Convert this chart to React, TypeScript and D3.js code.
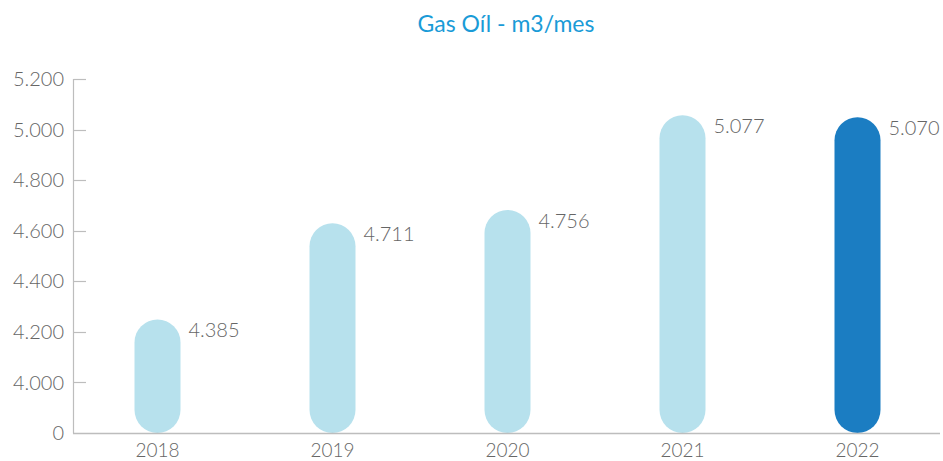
import React, { useEffect, useRef } from "react";
import * as d3 from "d3";

const years = ["2018", "2019", "2020", "2021", "2022"];
const values = [4385, 4711, 4756, 5077, 5070];
const valueLabels = ["4.385", "4.711", "4.756", "5.077", "5.070"];
const tickLabels = ["0", "4.000", "4.200", "4.400", "4.600", "4.800", "5.000", "5.200"];
const title = "Gas Oíl - m3/mes";

const W = 943;
const H = 461;
const FONT = "Lato, 'Open Sans', sans-serif";

export default function App() {
  const ref = useRef<SVGSVGElement | null>(null);

  useEffect(() => {
    const svg = d3.select(ref.current);
    svg.selectAll("*").remove();

    const x = d3.scaleBand().domain(years).range([70, 945]).padding(0);
    const yBar = d3.scaleLinear().domain([4000, 5200]).range([433, 79]);
    const yTick = d3.scaleLinear().domain([0, tickLabels.length - 1]).range([433, 79]);
    const barW = 46;

    // title
    svg.append("text")
      .attr("x", 506)
      .attr("y", 32)
      .attr("text-anchor", "middle")
      .attr("font-family", FONT)
      .attr("font-size", 23)
      .attr("fill", "#1a9bd7")
      .text(title);

    // y axis
    const axisColor = "#bdbdbd";
    svg.append("line")
      .attr("x1", 73.5).attr("x2", 73.5)
      .attr("y1", yTick(tickLabels.length - 1)).attr("y2", 433.5)
      .attr("stroke", axisColor).attr("stroke-width", 1.2);
    tickLabels.forEach((t, i) => {
      const yy = Math.round(yTick(i)) + 0.5;
      if (i > 0) {
        svg.append("line")
          .attr("x1", 73.5).attr("x2", 86)
          .attr("y1", yy).attr("y2", yy)
          .attr("stroke", axisColor).attr("stroke-width", 1.2);
      }
      svg.append("text")
        .attr("x", 64)
        .attr("y", yTick(i))
        .attr("dy", "0.36em")
        .attr("text-anchor", "end")
        .attr("font-family", FONT)
        .attr("font-weight", 300)
        .attr("font-size", 20)
        .attr("fill", "#666")
        .text(t);
    });

    // bars
    years.forEach((yr, i) => {
      const cx = (x(yr) as number) + x.bandwidth() / 2;
      const top = yBar(values[i]);
      const bottom = yBar(4000);
      svg.append("rect")
        .attr("x", cx - barW / 2)
        .attr("y", top)
        .attr("width", barW)
        .attr("height", bottom - top)
        .attr("rx", barW / 2)
        .attr("ry", barW / 2)
        .attr("fill", i === years.length - 1 ? "#1b7dc2" : "#b7e1ed");
      svg.append("text")
        .attr("x", cx + barW / 2 + 8)
        .attr("y", top + 18)
        .attr("font-family", FONT)
        .attr("font-weight", 300)
        .attr("font-size", 20)
        .attr("fill", "#666")
        .text(valueLabels[i]);
      svg.append("text")
        .attr("x", cx)
        .attr("y", 457)
        .attr("text-anchor", "middle")
        .attr("font-family", FONT)
        .attr("font-weight", 300)
        .attr("font-size", 19)
        .attr("fill", "#666")
        .text(yr);
    });

    // x axis baseline
    svg.append("line")
      .attr("x1", 73).attr("x2", 940)
      .attr("y1", 433.5).attr("y2", 433.5)
      .attr("stroke", axisColor).attr("stroke-width", 1.5);
  }, []);

  return (
    <svg
      ref={ref}
      width={W}
      height={H}
      style={{ position: "absolute", left: 0, top: 0, background: "#fff" }}
    />
  );
}
